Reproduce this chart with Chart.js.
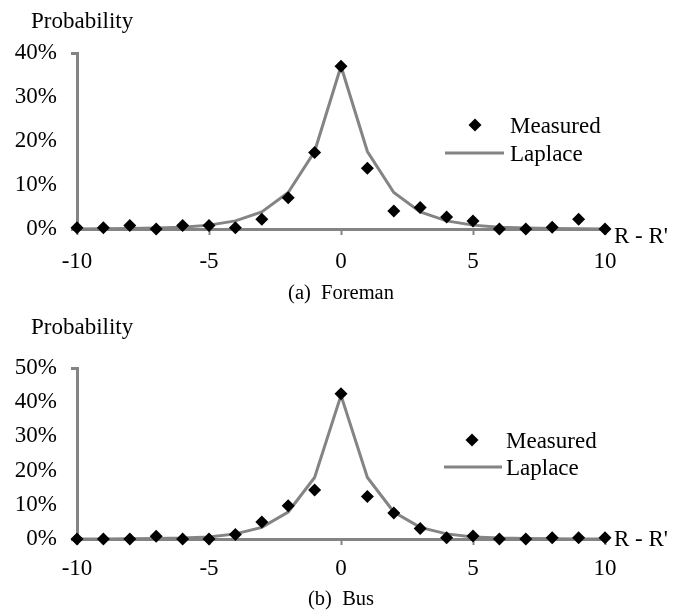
<!DOCTYPE html>
<html>
<head>
<meta charset="utf-8">
<script src="https://cdn.jsdelivr.net/npm/chart.js@4.4.1/dist/chart.umd.min.js"></script>
<style>
  html, body { margin: 0; padding: 0; background: #fff; }
  canvas { display: block; }
</style>
</head>
<body>
<canvas id="chartA" width="694" height="306"></canvas>
<canvas id="chartB" width="694" height="306"></canvas>
<script>
// R - R' offsets
const offsets = [-10, -9, -8, -7, -6, -5, -4, -3, -2, -1, 0, 1, 2, 3, 4, 5, 6, 7, 8, 9, 10];

// (a) Foreman, values in %
const foremanMeasured = [0.3, 0.3, 0.8, 0, 0.8, 0.8, 0.3, 2.2, 7.1, 17.4, 37.0, 13.8, 4.1, 4.9, 2.7, 1.8, 0, 0, 0.4, 2.2, 0];
const foremanLaplace = [0.02, 0.04, 0.09, 0.2, 0.42, 0.88, 1.85, 3.9, 8.3, 17.6, 37.0, 17.6, 8.3, 3.9, 1.85, 0.88, 0.42, 0.2, 0.09, 0.04, 0.02];

// (b) Bus, values in %
const busMeasured = [0, 0, 0, 0.8, 0, 0, 1.3, 5.0, 9.7, 14.3, 42.5, 12.4, 7.6, 3.1, 0.4, 0.9, 0, 0, 0.4, 0.4, 0.4];
const busLaplace = [0.01, 0.02, 0.05, 0.12, 0.27, 0.6, 1.5, 3.4, 7.9, 18.0, 42.0, 18.0, 7.9, 3.4, 1.5, 0.6, 0.27, 0.12, 0.05, 0.02, 0.01];

const xTicks = [-10, -5, 0, 5, 10];
const foremanYTicks = [0, 10, 20, 30, 40];
const busYTicks = [0, 10, 20, 30, 40, 50];

const FONT = "'Liberation Serif', 'Times New Roman', serif";
const GRAY = '#848484';

function toPoints(values) {
  return offsets.map((x, i) => ({ x: x, y: values[i] }));
}

// titles, legend, axis name and caption
const decorPlugin = {
  id: 'decor',
  afterDraw(chart, args, opts) {
    const ctx = chart.ctx;
    ctx.save();
    ctx.fillStyle = '#000';
    ctx.textBaseline = 'alphabetic';
    ctx.textAlign = 'left';
    ctx.font = '23px ' + FONT;
    ctx.fillText('Probability', 31, 27.5);

    // legend
    const lg = opts.legend;
    ctx.beginPath();
    ctx.moveTo(lg.markX - 6.5, lg.markY);
    ctx.lineTo(lg.markX, lg.markY - 6.5);
    ctx.lineTo(lg.markX + 6.5, lg.markY);
    ctx.lineTo(lg.markX, lg.markY + 6.5);
    ctx.closePath();
    ctx.fill();
    ctx.strokeStyle = GRAY;
    ctx.lineWidth = 3;
    ctx.beginPath();
    ctx.moveTo(lg.lineX0, lg.lineY);
    ctx.lineTo(lg.lineX1, lg.lineY);
    ctx.stroke();
    ctx.fillText('Measured', lg.textX, lg.markY + 8);
    ctx.fillText('Laplace', lg.textX, lg.lineY + 8);

    // axis name
    const area = chart.chartArea;
    ctx.fillText("R - R'", area.right + 9, area.bottom + opts.axisNameDy);

    // caption
    ctx.font = '20.5px ' + FONT;
    ctx.textAlign = 'center';
    ctx.fillText(opts.caption, chart.scales.x.getPixelForValue(0), 299);
    ctx.restore();
  }
};

function makeChart(id, measured, laplace, yTicks, cfg) {
  const yMax = yTicks[yTicks.length - 1];
  return new Chart(document.getElementById(id), {
    type: 'line',
    data: {
      datasets: [
        {
          label: 'Measured',
          data: toPoints(measured),
          showLine: false,
          pointStyle: 'rectRot',
          pointRadius: 6.5,
          pointBorderWidth: 0,
          pointBackgroundColor: '#000',
          pointBorderColor: '#000',
          clip: false
        },
        {
          label: 'Laplace',
          data: toPoints(laplace),
          borderColor: GRAY,
          borderWidth: 3,
          pointRadius: 0,
          tension: 0,
          fill: false,
          clip: false
        }
      ]
    },
    options: {
      responsive: false,
      animation: false,
      events: [],
      layout: { padding: { left: 0, right: 89, top: cfg.padTop, bottom: 0 } },
      plugins: {
        legend: { display: false },
        tooltip: { enabled: false },
        decor: { caption: cfg.caption, legend: cfg.legend, axisNameDy: cfg.axisNameDy }
      },
      scales: {
        x: {
          type: 'linear',
          min: -10,
          max: 10,
          afterBuildTicks: (scale) => { scale.ticks = xTicks.map(v => ({ value: v })); },
          afterFit: (scale) => { scale.height = cfg.axisHeight; },
          border: { display: true, color: GRAY, width: 3 },
          grid: { drawOnChartArea: false, drawTicks: true, tickLength: 6, tickColor: GRAY, tickWidth: 2 },
          ticks: { color: '#000', font: { family: FONT, size: 23 }, padding: cfg.xPad, maxRotation: 0 }
        },
        y: {
          min: 0,
          max: yMax,
          afterBuildTicks: (scale) => { scale.ticks = yTicks.map(v => ({ value: v })); },
          afterFit: (scale) => { scale.width = 77; },
          border: { display: true, color: GRAY, width: 3 },
          grid: {
            drawOnChartArea: false,
            drawTicks: true,
            tickLength: 6,
            tickWidth: 3,
            tickColor: (c) => (c.tick && (c.tick.value === yMax || c.tick.value === 0)) ? GRAY : 'rgba(0,0,0,0)'
          },
          ticks: {
            color: '#000',
            font: { family: FONT, size: 23 },
            padding: 14,
            callback: (v) => v + '%'
          }
        }
      }
    },
    plugins: [decorPlugin]
  });
}

window.addEventListener('DOMContentLoaded', () => {
  makeChart('chartA', foremanMeasured, foremanLaplace, foremanYTicks, {
    padTop: 53,
    axisHeight: 77,
    xPad: 13,
    axisNameDy: 14,
    caption: '(a)  Foreman',
    legend: { markX: 475, markY: 125, lineX0: 445, lineX1: 504, lineY: 153, textX: 510 }
  });
  makeChart('chartB', busMeasured, busLaplace, busYTicks, {
    padTop: 62,
    axisHeight: 73,
    xPad: 10,
    axisNameDy: 7,
    caption: '(b)  Bus',
    legend: { markX: 472, markY: 134, lineX0: 444, lineX1: 502, lineY: 161, textX: 506 }
  });
});
</script>
</body>
</html>
